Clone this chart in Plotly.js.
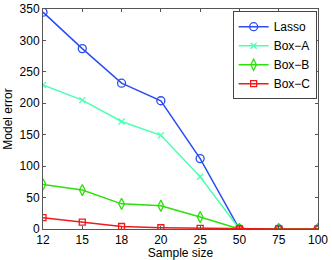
<!DOCTYPE html>
<html><head><meta charset="utf-8">
<script src="https://cdn.plot.ly/plotly-3.0.1.min.js"></script>
<style>html,body{margin:0;padding:0;background:#fff}#c{width:332px;height:260px}</style>
</head><body><div id="c"></div>
<script>
var categories = ['12','15','18','20','25','50','75','100'];
var lasso = [345, 287, 232, 204, 112, 0, 0, 0];
var boxA = [229, 205, 171, 149, 83, 0, 0, 0];
var boxB = [71, 62, 40, 37, 19, 0, 0, 0];
var boxC = [18, 11, 4, 2, 1, 0, 0, 0];

function tr(name, y, color, sym, size) {
  return {x: categories, y: y, name: name, type: 'scatter', mode: 'lines+markers',
    line: {color: color, width: 1.5},
    marker: {symbol: sym, size: size, color: color, line: {color: color, width: 1.3}}};
}
var data = [
  tr('Lasso', lasso, '#2b4cf2', 'circle-open', 8),
  tr('Box\u2212A', boxA, '#4dffb0', 'x-thin-open', 6),
  tr('Box\u2212B', boxB, '#2ce00a', 'diamond-tall-open', 8),
  tr('Box\u2212C', boxC, '#f01a1a', 'square-open', 6)
];
var layout = {
  width: 332, height: 260,
  margin: {l: 43, r: 14, t: 9, b: 31},
  paper_bgcolor: '#fff', plot_bgcolor: '#fff',
  font: {family: 'Liberation Sans, Arial, sans-serif', size: 12, color: '#000'},
  showlegend: true,
  legend: {x: 0.995, xanchor: 'right', y: 0.99, yanchor: 'top', bgcolor: '#fff',
    bordercolor: '#444', borderwidth: 1, font: {size: 12}, tracegroupgap: 0,
    itemwidth: 30},
  xaxis: {type: 'category', range: [0, 7], showgrid: false, zeroline: false,
    showline: true, mirror: 'ticks', linecolor: '#555', linewidth: 1,
    ticks: 'inside', ticklen: 3, tickcolor: '#555',
    title: {text: 'Sample size', font: {size: 12}, standoff: 0},
    tickfont: {size: 12}},
  yaxis: {range: [0, 350], dtick: 50, showgrid: false, zeroline: false,
    showline: true, mirror: 'ticks', linecolor: '#555', linewidth: 1,
    ticks: 'inside', ticklen: 3, tickcolor: '#555',
    title: {text: 'Model error', font: {size: 12}, standoff: 4},
    tickfont: {size: 12}}
};
Plotly.newPlot('c', data, layout, {displayModeBar: false, staticPlot: true});
</script></body></html>
